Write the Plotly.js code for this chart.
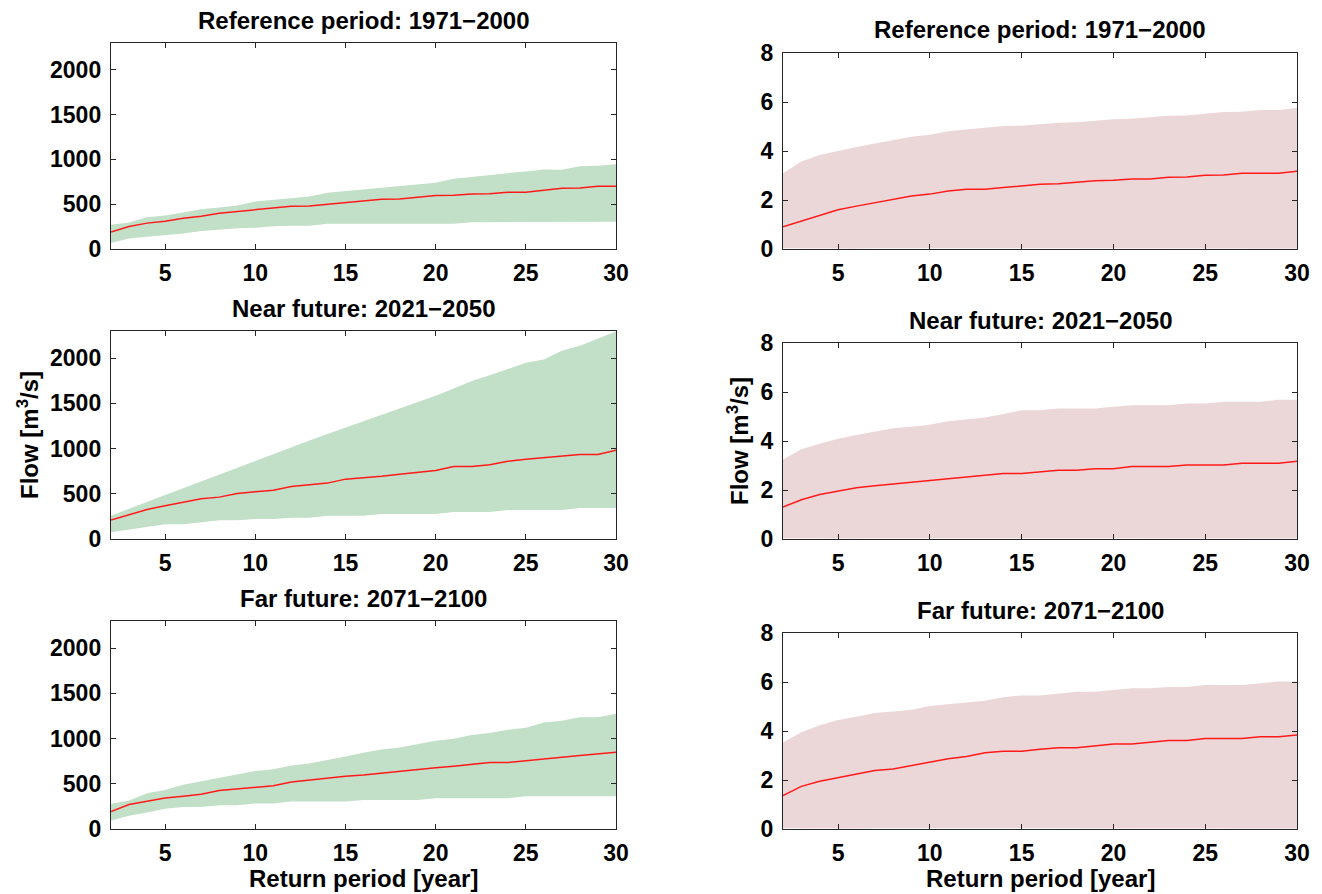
<!DOCTYPE html>
<html>
<head>
<meta charset="utf-8">
<script src="https://cdn.plot.ly/plotly-3.0.1.min.js"></script>
<style>
html,body{margin:0;padding:0;background:#fff;}
#chart{width:1322px;height:894px;}
</style>
</head>
<body>
<div id="chart"></div>
<script>
// Return periods [year]
const returnPeriod = [2,3,4,5,6,7,8,9,10,11,12,13,14,15,16,17,18,19,20,21,22,23,24,25,26,27,28,29,30];

// Left column: flow [m3/s], catchment A
const refLeftMed  = [189,252,289,311,344,366,400,418,437,455,477,481,500,522,537,555,559,577,596,600,614,618,633,633,651,677,680,700,700];
const refLeftUp   = [270,296,355,374,407,444,462,485,529,548,562,585,629,648,662,685,703,722,740,784,807,829,847,866,888,884,925,929,947];
const refLeftLo   = [67,118,137,155,174,200,218,233,237,255,259,259,281,281,281,281,281,281,281,281,300,300,300,300,300,300,300,300,303];

const nearLeftMed = [210,268,327,368,404,445,463,504,522,540,581,599,618,662,676,695,717,735,757,801,801,820,860,882,901,919,934,934,981];
const nearLeftUp  = [257,335,410,487,560,636,712,790,868,945,1022,1090,1162,1231,1300,1375,1441,1512,1584,1665,1746,1810,1875,1948,1985,2081,2136,2213,2294];
const nearLeftLo  = [74,103,140,162,162,187,206,206,220,220,235,235,257,257,257,276,276,276,276,298,298,298,320,320,320,320,342,342,342];

const farLeftMed  = [194,271,307,344,362,384,425,443,461,479,520,542,560,582,597,619,637,655,677,695,717,736,736,758,776,794,812,831,850];
const farLeftUp   = [278,315,395,432,490,527,564,604,641,662,703,725,761,802,842,878,900,941,977,999,1040,1061,1098,1120,1179,1197,1237,1237,1274];
const farLeftLo   = [95,146,183,223,242,242,264,264,282,282,304,304,304,304,322,322,322,322,340,340,340,340,340,362,362,362,362,362,362];

// Right column: flow [m3/s], catchment B
const refRightMed  = [0.91,1.14,1.37,1.60,1.75,1.88,2.02,2.16,2.24,2.37,2.44,2.44,2.51,2.58,2.64,2.66,2.73,2.79,2.81,2.86,2.86,2.93,2.94,3.01,3.02,3.09,3.09,3.09,3.17];
const refRightUp   = [3.09,3.57,3.84,4.01,4.16,4.31,4.43,4.58,4.66,4.81,4.88,4.95,5.02,5.03,5.10,5.15,5.17,5.23,5.30,5.32,5.37,5.44,5.45,5.52,5.59,5.60,5.67,5.67,5.76];
const refRightLo   = [0.03,0.02,0.03,0.03,0.02,0.03,0.03,0.02,0.03,0.03,0.02,0.03,0.03,0.02,0.03,0.03,0.02,0.03,0.03,0.02,0.03,0.03,0.02,0.03,0.03,0.02,0.03,0.03,0.02];

const nearRightMed = [1.30,1.60,1.82,1.95,2.09,2.17,2.24,2.31,2.37,2.45,2.52,2.59,2.67,2.67,2.74,2.81,2.81,2.87,2.87,2.96,2.96,2.96,3.02,3.02,3.02,3.09,3.09,3.09,3.17];
const nearRightUp  = [3.24,3.66,3.89,4.09,4.24,4.38,4.52,4.58,4.66,4.81,4.88,4.96,5.10,5.26,5.26,5.33,5.33,5.33,5.40,5.46,5.46,5.46,5.53,5.53,5.60,5.60,5.60,5.68,5.68];
const nearRightLo  = [0.03,0.02,0.03,0.03,0.02,0.03,0.03,0.02,0.03,0.03,0.02,0.03,0.03,0.02,0.03,0.03,0.02,0.03,0.03,0.02,0.03,0.03,0.02,0.03,0.03,0.02,0.03,0.03,0.02];

const farRightMed  = [1.36,1.74,1.95,2.10,2.24,2.39,2.45,2.60,2.74,2.87,2.96,3.11,3.17,3.17,3.25,3.32,3.32,3.40,3.47,3.47,3.54,3.61,3.61,3.69,3.69,3.69,3.77,3.77,3.84];
const farRightUp   = [3.53,3.95,4.23,4.45,4.58,4.73,4.80,4.87,5.02,5.08,5.17,5.23,5.38,5.45,5.45,5.52,5.60,5.60,5.67,5.74,5.74,5.80,5.80,5.88,5.88,5.88,5.95,6.02,6.02];
const farRightLo   = [0.03,0.02,0.03,0.03,0.02,0.03,0.03,0.02,0.03,0.03,0.02,0.03,0.03,0.02,0.03,0.03,0.02,0.03,0.03,0.02,0.03,0.03,0.02,0.03,0.03,0.02,0.03,0.03,0.02];

const panelTitles = ["Reference period: 1971\u22122000", "Near future: 2021\u22122050", "Far future: 2071\u22122100"];
const xTickVals = [5,10,15,20,25,30];
const leftYTicks = [0,500,1000,1500,2000];
const rightYTicks = [0,2,4,6,8];
const xLabel = "Return period [year]";
const yLabel = "Flow [m<sup>3</sup>/s]";

const GREEN = "rgb(194,223,199)";
const PINK = "rgb(236,215,216)";
const RED = "#ff1a1a";
const W = 1322, H = 894;
const FAM = 'Liberation Sans, Arial, sans-serif';

const panels = [
  {lo: refLeftLo,  up: refLeftUp,  med: refLeftMed,  fill: GREEN, ax: 1},
  {lo: refRightLo, up: refRightUp, med: refRightMed, fill: PINK,  ax: 2},
  {lo: nearLeftLo, up: nearLeftUp, med: nearLeftMed, fill: GREEN, ax: 3},
  {lo: nearRightLo,up: nearRightUp,med: nearRightMed,fill: PINK,  ax: 4},
  {lo: farLeftLo,  up: farLeftUp,  med: farLeftMed,  fill: GREEN, ax: 5},
  {lo: farRightLo, up: farRightUp, med: farRightMed, fill: PINK,  ax: 6}
];

const traces = [];
panels.forEach(p => {
  const xa = p.ax === 1 ? 'x' : 'x' + p.ax;
  const ya = p.ax === 1 ? 'y' : 'y' + p.ax;
  traces.push({x: returnPeriod, y: p.lo, xaxis: xa, yaxis: ya, mode: 'lines', line: {width: 0, color: p.fill}, hoverinfo: 'skip', showlegend: false});
  traces.push({x: returnPeriod, y: p.up, xaxis: xa, yaxis: ya, mode: 'lines', line: {width: 0, color: p.fill}, fill: 'tonexty', fillcolor: p.fill, showlegend: false});
  traces.push({x: returnPeriod, y: p.med, xaxis: xa, yaxis: ya, mode: 'lines', line: {width: 1.5, color: RED}, showlegend: false});
});

// pixel boxes [left, right, top, bottom]
const boxes = {
  1: [111, 616, 43, 249],
  2: [783, 1297, 53, 249],
  3: [111, 616, 331, 539],
  4: [783, 1297, 343, 539],
  5: [111, 616, 621, 829],
  6: [783, 1297, 633, 829]
};

const tickFont = {family: FAM, size: 23, color: '#000', weight: 'bold'};
const textFont = {family: FAM, size: 24, color: '#000', weight: 'bold'};
const layout = {
  width: W, height: H,
  margin: {l: 0, r: 0, t: 0, b: 0},
  paper_bgcolor: '#fff', plot_bgcolor: '#fff',
  showlegend: false,
  annotations: []
};

for (let i = 1; i <= 6; i++) {
  const b = boxes[i];
  const isLeft = (i % 2 === 1);
  const xk = i === 1 ? 'xaxis' : 'xaxis' + i;
  const yk = i === 1 ? 'yaxis' : 'yaxis' + i;
  const yanchor = i === 1 ? 'y' : 'y' + i;
  const xanchor = i === 1 ? 'x' : 'x' + i;
  layout[xk] = {
    domain: [b[0] / W, b[1] / W], anchor: yanchor,
    range: [2, 30], tickvals: xTickVals, ticktext: xTickVals.map(String),
    ticks: 'inside', ticklen: 5, tickwidth: 1, tickcolor: '#262626',
    showline: true, linecolor: '#262626', linewidth: 1.2, mirror: 'ticks',
    showgrid: false, zeroline: false, tickfont: tickFont, ticklabelstandoff: 3
  };
  layout[yk] = {
    domain: [1 - b[3] / H, 1 - b[2] / H], anchor: xanchor,
    range: isLeft ? [0, 2300] : [0, 8],
    tickvals: isLeft ? leftYTicks : rightYTicks,
    ticktext: (isLeft ? leftYTicks : rightYTicks).map(String),
    ticks: 'inside', ticklen: 5, tickwidth: 1, tickcolor: '#262626',
    showline: true, linecolor: '#262626', linewidth: 1.2, mirror: 'ticks',
    showgrid: false, zeroline: false, tickfont: tickFont, ticklabelstandoff: 4
  };
  const row = Math.floor((i - 1) / 2);
  const cx = (b[0] + b[1]) / 2;
  // Panel title
  layout.annotations.push({
    text: panelTitles[row], xref: 'paper', yref: 'paper',
    x: cx / W, y: 1 - (b[2] - 23) / H, xanchor: 'center', yanchor: 'middle',
    showarrow: false, font: textFont
  });
  if (row === 2) {
    layout.annotations.push({
      text: xLabel, xref: 'paper', yref: 'paper',
      x: cx / W, y: 1 - 878 / H, xanchor: 'center', yanchor: 'middle',
      showarrow: false, font: textFont
    });
  }
  if (row === 1) {
    layout.annotations.push({
      text: yLabel, xref: 'paper', yref: 'paper', textangle: -90,
      x: (isLeft ? 28 : 738) / W, y: 1 - ((b[2] + b[3]) / 2) / H, xanchor: 'center', yanchor: 'middle',
      showarrow: false, font: textFont
    });
  }
}

Plotly.newPlot('chart', traces, layout, {staticPlot: true, displayModeBar: false});
</script>
</body>
</html>
